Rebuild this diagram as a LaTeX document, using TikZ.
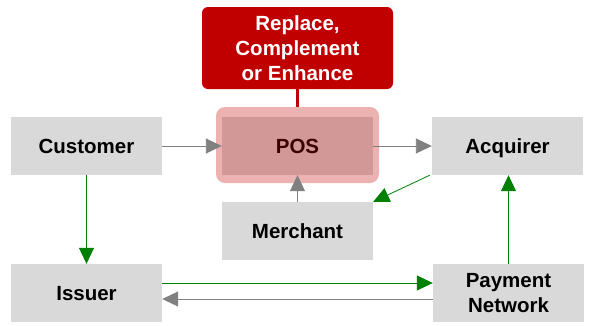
\documentclass[tikz,border=0pt]{standalone}
\usepackage{fontspec}
\setmainfont{Liberation Sans}
\usetikzlibrary{arrows.meta}
\definecolor{boxgray}{RGB}{217,217,217}
\definecolor{darkred}{RGB}{192,0,0}
\definecolor{halo}{RGB}{236,178,178}
\definecolor{posfill}{RGB}{210,152,152}
\definecolor{postext}{RGB}{58,0,0}
\definecolor{arrgray}{RGB}{128,128,128}
\definecolor{arrgreen}{RGB}{0,128,0}
\tikzset{
  box/.style={fill=boxgray, draw=none, minimum width=151pt, minimum height=58pt, inner sep=0pt, align=center, font=\bfseries\fontsize{20.5}{24.5}\selectfont},
  oneline/.style={text height=14.7pt, text depth=0pt},
  grayarrow/.style={draw=arrgray, line width=0.9pt, -{Triangle[length=16pt,width=15pt]}},
  greenarrow/.style={draw=arrgreen, line width=0.8pt, -{Triangle[length=16pt,width=15pt]}}
}
\begin{document}
\begin{tikzpicture}[x=1pt,y=-1pt]
\useasboundingbox (0,0) rectangle (595,325);
% POS halo
\fill[halo, rounded corners=9pt] (216,107) rectangle (379,183);
\node[box, oneline, fill=posfill, text=postext] (pos) at (297.5,146) {POS};
% red box
\node[fill=darkred, text=white, rounded corners=6pt, minimum width=191pt, minimum height=82pt, inner sep=0pt, align=center, font=\bfseries\fontsize{20.5}{25}\selectfont] (rep) at (297.5,48) {Replace,\\Complement\\or Enhance};
\coordinate (halotop) at (297.5,107);
\draw[darkred, line width=3pt] (rep.south) -- (halotop);
% other boxes
\node[box, oneline] (cus) at (86.5,146) {Customer};
\node[box, oneline] (acq) at (507.5,146) {Acquirer};
\node[box, oneline] (mer) at (297.5,231) {Merchant};
\node[box, oneline] (iss) at (86.5,293) {Issuer};
\node[box] (pn) at (508.5,293) {Payment\\Network};
% connectors
\draw[grayarrow] (cus.east) -- (pos.west);
\draw[grayarrow] (pos.east) -- (acq.west);
\draw[grayarrow] (mer.north) -- (pos.south);
\draw[greenarrow] ([xshift=-2pt]acq.south west) -- (mer.north east);
\draw[greenarrow] (cus.south) -- (iss.north);
\draw[greenarrow] ([yshift=10pt]iss.east) -- ([yshift=10pt]pn.west);
\draw[grayarrow] ([yshift=-6pt]pn.west) -- ([yshift=-6pt]iss.east);
\draw[greenarrow] (pn.north) -- (pn.north |- acq.south);
\end{tikzpicture}
\end{document}
